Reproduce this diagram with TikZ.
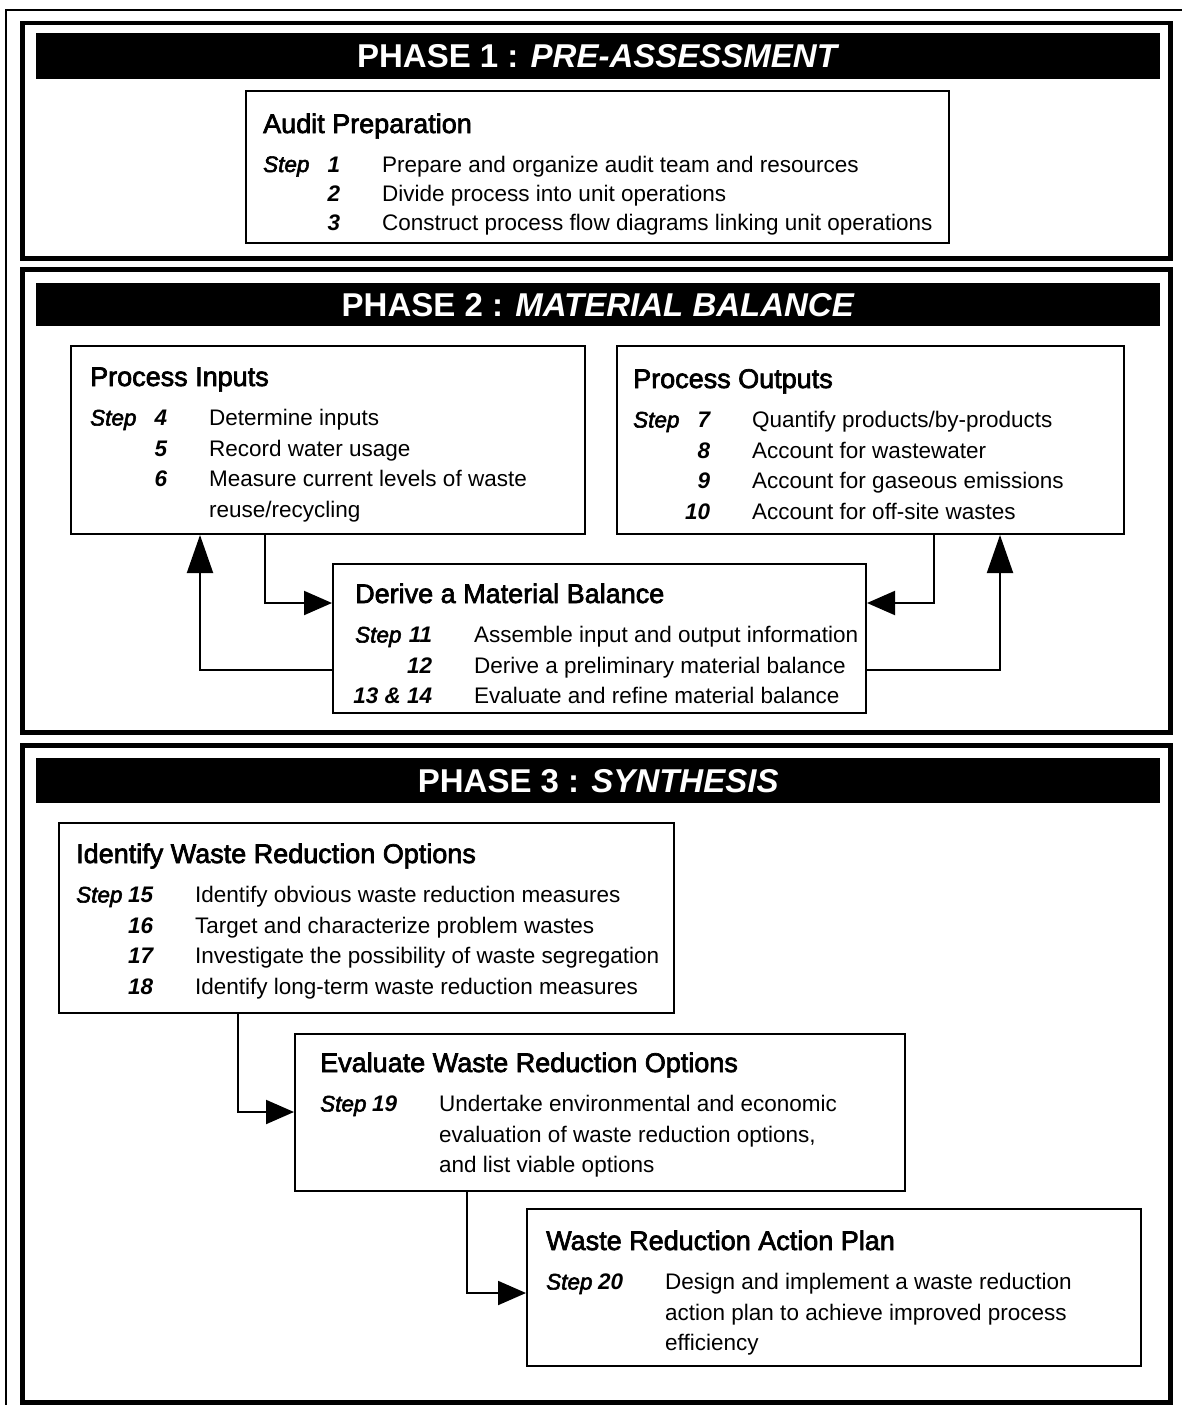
\documentclass[tikz,border=0pt]{standalone}
\usepackage{fontspec}
\setmainfont{Liberation Sans}
\newfontfamily\ttlfont{Liberation Sans}[FakeBold=2.5]
\usetikzlibrary{arrows.meta}
\newcommand\stepfont{\ttlfont\itshape}
\newcommand\numfont{\normalfont\bfseries\itshape}
\newcommand\ttlsize{\ttlfont\fontsize{27}{30}\selectfont}
\newcommand\stp[2]{\makebox[77pt][s]{\stepfont Step\hfill\numfont #1}\hspace{42pt}#2}
\newcommand\nx[2]{\makebox[77pt][r]{\numfont #1}\hspace{42pt}#2}
\tikzset{
  phasebox/.style={draw, line width=4.5pt, inner sep=0pt, anchor=north west},
  hdr/.style={fill=black, text=white, inner sep=0pt, anchor=north west,
    minimum width=1124pt, font=\bfseries\fontsize{33}{36}\selectfont},
  stepbox/.style={draw, line width=2pt, inner sep=0pt, anchor=north west, fill=white},
  txt/.style={inner sep=0pt, anchor=base west, font=\fontsize{22.5}{30.5}\selectfont},
  txtA/.style={inner sep=0pt, anchor=base west, font=\fontsize{22.5}{29}\selectfont},
  harr/.style={line width=2pt, -{Triangle[length=28pt,width=24pt]}},
  varr/.style={line width=2pt, -{Triangle[length=38pt,width=26pt]}}
}
\begin{document}
\begin{tikzpicture}[x=1pt,y=-1pt]
\useasboundingbox (0,0) rectangle (1181,1405);
% outer thin frame
\draw[line width=1.5pt] (6,1410) -- (6,10) -- (1190,10);

% Phase boxes
\node[phasebox, minimum width=1148pt, minimum height=235pt] (ph1) at (20,21) {};
\node[phasebox, minimum width=1148pt, minimum height=463pt] (ph2) at (20,267) {};
\node[phasebox, minimum width=1148pt, minimum height=657pt] (ph3) at (20,743) {};

% Headers
\node[hdr, minimum height=46pt] (h1) at (36,33) {PHASE 1 : \textit{PRE-ASSESSMENT}};
\node[hdr, minimum height=43pt] (h2) at (36,283) {PHASE 2 : \textit{MATERIAL BALANCE}};
\node[hdr, minimum height=45pt] (h3) at (36,758) {PHASE 3 : \textit{SYNTHESIS}};

% Step boxes
\node[stepbox, minimum width=703pt, minimum height=152pt] (audit) at (245,90) {};
\node[stepbox, minimum width=514pt, minimum height=188pt] (inputs) at (70,345) {};
\node[stepbox, minimum width=507pt, minimum height=188pt] (outputs) at (616,345) {};
\node[stepbox, minimum width=533pt, minimum height=149pt] (derive) at (332,563) {};
\node[stepbox, minimum width=615pt, minimum height=190pt] (identify) at (58,822) {};
\node[stepbox, minimum width=610pt, minimum height=157pt] (evaluate) at (294,1033) {};
\node[stepbox, minimum width=614pt, minimum height=157pt] (action) at (526,1208) {};

% Texts
\node[txtA] (auditT) at ([xshift=18pt,yshift=-43pt]audit.north west)
 {\begin{tabular}[t]{@{}l@{}}{\ttlsize Audit Preparation}\\[10pt]
 \stp{1}{Prepare and organize audit team and resources}\\
 \nx{2}{Divide process into unit operations}\\
 \nx{3}{Construct process flow diagrams linking unit operations}\end{tabular}};

\node[txt] (inT) at ([xshift=20pt,yshift=-41pt]inputs.north west)
 {\begin{tabular}[t]{@{}l@{}}{\ttlsize Process Inputs}\\[9pt]
 \stp{4}{Determine inputs}\\
 \nx{5}{Record water usage}\\
 \nx{6}{Measure current levels of waste}\\
 \nx{}{reuse/recycling}\end{tabular}};

\node[txt] (outT) at ([xshift=17pt,yshift=-43pt]outputs.north west)
 {\begin{tabular}[t]{@{}l@{}}{\ttlsize Process Outputs}\\[9pt]
 \stp{7}{Quantify products/by-products}\\
 \nx{8}{Account for wastewater}\\
 \nx{9}{Account for gaseous emissions}\\
 \nx{10}{Account for off-site wastes}\end{tabular}};

\node[txt] (derT) at ([xshift=23pt,yshift=-40pt]derive.north west)
 {\begin{tabular}[t]{@{}l@{}}{\ttlsize Derive a Material Balance}\\[9pt]
 \stp{11}{Assemble input and output information}\\
 \nx{12}{Derive a preliminary material balance}\\
 \nx{13 \& 14}{Evaluate and refine material balance}\end{tabular}};

\node[txt] (idT) at ([xshift=18pt,yshift=-41pt]identify.north west)
 {\begin{tabular}[t]{@{}l@{}}{\ttlsize Identify Waste Reduction Options}\\[9pt]
 \stp{15}{Identify obvious waste reduction measures}\\
 \nx{16}{Target and characterize problem wastes}\\
 \nx{17}{Investigate the possibility of waste segregation}\\
 \nx{18}{Identify long-term waste reduction measures}\end{tabular}};

\node[txt] (evT) at ([xshift=26pt,yshift=-39pt]evaluate.north west)
 {\begin{tabular}[t]{@{}l@{}}{\ttlsize Evaluate Waste Reduction Options}\\[9pt]
 \stp{19}{Undertake environmental and economic}\\
 \nx{}{evaluation of waste reduction options,}\\
 \nx{}{and list viable options}\end{tabular}};

\node[txt] (acT) at ([xshift=20pt,yshift=-42pt]action.north west)
 {\begin{tabular}[t]{@{}l@{}}{\ttlsize Waste Reduction Action Plan}\\[9pt]
 \stp{20}{Design and implement a waste reduction}\\
 \nx{}{action plan to achieve improved process}\\
 \nx{}{efficiency}\end{tabular}};

% Connectors
\draw[harr] ([xshift=195pt]inputs.south west) |- ([yshift=-40pt]derive.north west);
\draw[varr] ([yshift=-107pt]derive.north west) -| ([xshift=130pt]inputs.south west);
\draw[harr] ([xshift=318pt]outputs.south west) |- ([yshift=-40pt]derive.north east);
\draw[varr] ([yshift=-107pt]derive.north east) -| ([xshift=384pt]outputs.south west);
\draw[harr] ([xshift=180pt]identify.south west) |- ([yshift=-79pt]evaluate.north west);
\draw[harr] ([xshift=173pt]evaluate.south west) |- ([yshift=-85pt]action.north west);
\end{tikzpicture}
\end{document}
